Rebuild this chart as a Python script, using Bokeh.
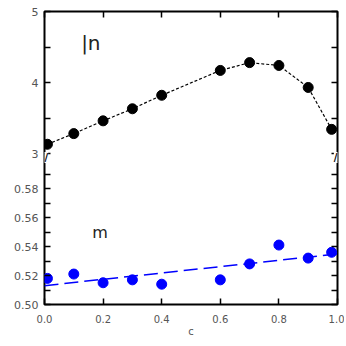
import numpy as np
from bokeh.plotting import figure
from bokeh.models import Range1d, LinearAxis, FixedTicker, Label, NumeralTickFormatter
from bokeh.embed import file_html
from bokeh.resources import INLINE

# ---- data ----
x_vals = [0.01, 0.1, 0.2, 0.3, 0.4, 0.6, 0.7, 0.8, 0.9, 0.98]
n_vals = [3.13, 3.28, 3.46, 3.63, 3.82, 4.17, 4.28, 4.24, 3.93, 3.34]
m_vals = [0.518, 0.521, 0.515, 0.517, 0.514, 0.517, 0.528, 0.541, 0.532, 0.536]

x_ticks = [0.0, 0.2, 0.4, 0.6, 0.8, 1.0]
n_ticks = [3, 4, 5]
n_minor = [3.5, 4.5]
n_tick_labels = ["3", "4", "5"]
m_ticks = [0.50, 0.52, 0.54, 0.56, 0.58]
m_minor = [0.51, 0.53, 0.55, 0.57, 0.59]
m_tick_labels = ["0.50", "0.52", "0.54", "0.56", "0.58"]

# ---- broken-axis mapping into one common vertical coordinate ----
FRAME_H = 293.0
M_MIN, M_SCALE = 0.50, 1450.0   # lower panel
N_MAX, N_SCALE = 5.0, 71.0      # upper panel
BREAK = 147.0

def m_to_c(v):
    return (np.asarray(v, dtype=float) - M_MIN) * M_SCALE

def n_to_c(v):
    return FRAME_H - (N_MAX - np.asarray(v, dtype=float)) * N_SCALE

p = figure(width=344, height=340, x_range=Range1d(0, 1), y_range=Range1d(0, FRAME_H),
           x_axis_type=None, y_axis_type=None,
           output_backend="svg", toolbar_location=None,
           min_border_left=44, min_border_right=7, min_border_top=11, min_border_bottom=36)
p.outline_line_color = "black"
p.outline_line_width = 2
p.background_fill_color = "white"

# ticks
y_major = [int(round(t)) for t in m_to_c(m_ticks)] + [int(round(t)) for t in n_to_c(n_ticks)]
y_minor = list(m_to_c(m_minor)) + list(n_to_c(n_minor))
y_labels = dict(zip(y_major, m_tick_labels + n_tick_labels))
yticker = FixedTicker(ticks=y_major, minor_ticks=y_minor)
xticker = FixedTicker(ticks=x_ticks, minor_ticks=[])

common = dict(axis_line_color=None, major_tick_in=6, major_tick_out=0,
              minor_tick_in=6, minor_tick_out=0,
              major_tick_line_width=1.5, minor_tick_line_width=1.5,
              major_label_text_font="DejaVu Sans",
              major_label_text_font_size="11px",
              major_label_text_color="#555555")

left = LinearAxis(ticker=yticker, major_label_overrides=y_labels,
                  major_label_standoff=6, **common)
right = LinearAxis(ticker=yticker, major_label_overrides={k: "" for k in y_major},
                   major_label_standoff=0, **common)
bottom = LinearAxis(ticker=xticker, formatter=NumeralTickFormatter(format="0.0"),
                    major_label_standoff=10, axis_label="c",
                    axis_label_text_font="DejaVu Sans",
                    axis_label_text_font_size="10px",
                    axis_label_text_font_style="normal",
                    axis_label_text_color="#555555",
                    axis_label_standoff=0, **common)
bottom.major_label_text_font_size = "10px"
top = LinearAxis(ticker=xticker, major_label_overrides={t: "" for t in x_ticks},
                 major_label_standoff=0, **common)
right.major_label_text_font_size = "0px"
top.major_label_text_font_size = "0px"
p.add_layout(left, "left")
p.add_layout(right, "right")
p.add_layout(bottom, "below")
p.add_layout(top, "above")

# upper series (n)
p.line(x_vals, n_to_c(n_vals), line_color="black", line_width=1.2, line_dash="3 2")
p.scatter(x_vals, n_to_c(n_vals), size=10, fill_color="black", line_color="black")

# lower series (m) with linear fit
coef = np.polyfit(x_vals, m_vals, 1)
fx = np.array([0.0, 1.0])
p.line(fx, m_to_c(np.polyval(coef, fx)), line_color="#0000ff", line_width=1.5, line_dash="14 6")
p.scatter(x_vals, m_to_c(m_vals), size=10, fill_color="#0000ff", line_color="#0000ff")

# panel labels
p.add_layout(Label(x=0.125, y=250, text="|n", text_font="DejaVu Sans",
                   text_font_size="20px", text_color="#222222"))
p.add_layout(Label(x=0.163, y=63, text="m", text_font="DejaVu Sans",
                   text_font_size="16px", text_color="#222222"))

# break marks on both sides (white box interrupts the frame line)
for bx in (0.0, 1.0):
    p.add_layout(Label(x=bx, y=BREAK, text="//", text_font="DejaVu Sans",
                       text_font_size="10px", text_font_style="bold", text_color="black",
                       text_align="center", text_baseline="middle",
                       background_fill_color="white", background_fill_alpha=1.0,
                       padding=0))

open("out.html", "w").write(file_html(p, INLINE))
